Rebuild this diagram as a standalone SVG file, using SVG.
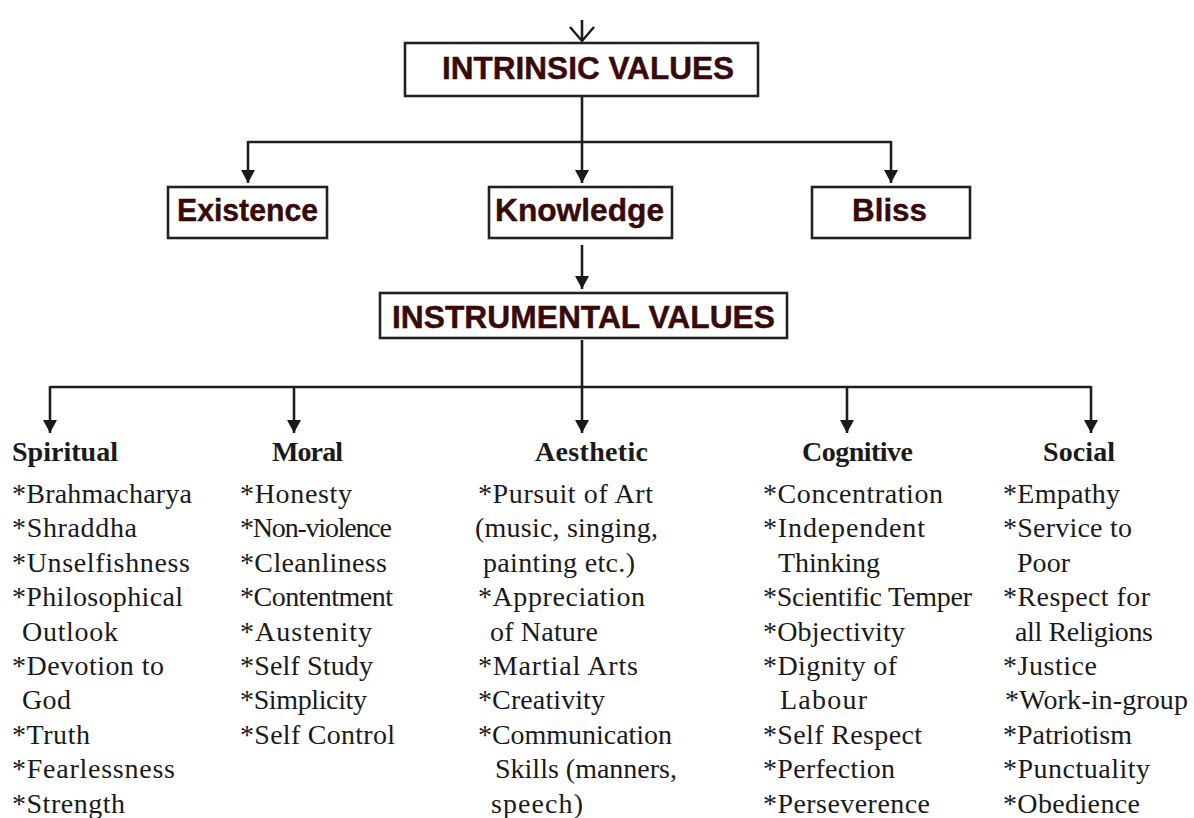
<svg xmlns="http://www.w3.org/2000/svg" width="1194" height="818" viewBox="0 0 1194 818">
<defs>
<marker id="tri" markerUnits="userSpaceOnUse" markerWidth="14" markerHeight="16" refX="13" refY="7" orient="auto" viewBox="0 0 14 14">
<path d="M0,0 L13,7 L0,14 z" fill="#1a1a1a"/>
</marker>
<marker id="vee" markerUnits="userSpaceOnUse" markerWidth="18" markerHeight="28" refX="15" refY="13" orient="auto" viewBox="0 0 18 28">
<path d="M1,1 L15,13 L1,25" fill="none" stroke="#1a1a1a" stroke-width="2.4"/>
</marker>
<style>
.box{fill:#fff;stroke:#222;stroke-width:2.6}
.bl{font-family:"Liberation Sans",Arial,sans-serif;font-weight:bold;fill:#3a0a0a;stroke:#2a0505;stroke-width:0.4}
.ln{fill:none;stroke:#1e1e1e;stroke-width:2.6}
.hd{font-family:"Liberation Serif","Times New Roman",serif;font-weight:bold;font-size:28px;fill:#1a1a1a}
.it{font-family:"Liberation Serif","Times New Roman",serif;font-size:28px;fill:#1a1a1a}
</style>
</defs>
<rect width="1194" height="818" fill="#fff"/>

<g id="connectors">
<line class="ln" x1="582" y1="20" x2="582" y2="41" marker-end="url(#vee)"/>
<line class="ln" x1="582" y1="96" x2="582" y2="142"/>
<line class="ln" x1="248" y1="142" x2="891" y2="142"/>
<line class="ln" x1="248" y1="141" x2="248" y2="183" marker-end="url(#tri)"/>
<line class="ln" x1="582" y1="142" x2="582" y2="183" marker-end="url(#tri)"/>
<line class="ln" x1="891" y1="141" x2="891" y2="183" marker-end="url(#tri)"/>
<line class="ln" x1="582" y1="245" x2="582" y2="289" marker-end="url(#tri)"/>
<line class="ln" x1="582" y1="340" x2="582" y2="387"/>
<line class="ln" x1="50" y1="387" x2="1091" y2="387"/>
<line class="ln" x1="50" y1="386" x2="50" y2="433" marker-end="url(#tri)"/>
<line class="ln" x1="294" y1="387" x2="294" y2="433" marker-end="url(#tri)"/>
<line class="ln" x1="582" y1="387" x2="582" y2="433" marker-end="url(#tri)"/>
<line class="ln" x1="847" y1="387" x2="847" y2="433" marker-end="url(#tri)"/>
<line class="ln" x1="1091" y1="386" x2="1091" y2="433" marker-end="url(#tri)"/>
</g>

<g id="intrinsic">
<rect class="box" x="405" y="43" width="353" height="53"/>
<text class="bl" x="442" y="79" font-size="31" textLength="292" lengthAdjust="spacingAndGlyphs">INTRINSIC VALUES</text>
</g>

<g id="existence">
<rect class="box" x="168" y="187" width="159" height="51"/>
<text class="bl" x="177" y="221" font-size="32" textLength="141" lengthAdjust="spacingAndGlyphs">Existence</text>
</g>

<g id="knowledge">
<rect class="box" x="489" y="187" width="183" height="51"/>
<text class="bl" x="495" y="221" font-size="32" textLength="169" lengthAdjust="spacingAndGlyphs">Knowledge</text>
</g>

<g id="bliss">
<rect class="box" x="812" y="187" width="158" height="51"/>
<text class="bl" x="852" y="221" font-size="32" textLength="75" lengthAdjust="spacingAndGlyphs">Bliss</text>
</g>

<g id="instrumental">
<rect class="box" x="380" y="293" width="407" height="45"/>
<text class="bl" x="392" y="328" font-size="31" textLength="383" lengthAdjust="spacingAndGlyphs">INSTRUMENTAL VALUES</text>
</g>

<g id="spiritual">
<text class="hd" x="12" y="461" textLength="106" lengthAdjust="spacing">Spiritual</text>
<text class="it" x="12" y="503" textLength="180" lengthAdjust="spacing">*Brahmacharya</text>
<text class="it" x="12" y="537.4" textLength="125" lengthAdjust="spacing">*Shraddha</text>
<text class="it" x="12" y="571.8" textLength="178" lengthAdjust="spacing">*Unselfishness</text>
<text class="it" x="12" y="606.2" textLength="171" lengthAdjust="spacing">*Philosophical</text>
<text class="it" x="22" y="640.6" textLength="96" lengthAdjust="spacing">Outlook</text>
<text class="it" x="12" y="675" textLength="152" lengthAdjust="spacing">*Devotion to</text>
<text class="it" x="22" y="709.4" textLength="49" lengthAdjust="spacing">God</text>
<text class="it" x="12" y="743.8" textLength="78" lengthAdjust="spacing">*Truth</text>
<text class="it" x="12" y="778.2" textLength="163" lengthAdjust="spacing">*Fearlessness</text>
<text class="it" x="12" y="812.6" textLength="113" lengthAdjust="spacing">*Strength</text>
</g>

<g id="moral">
<text class="hd" x="272" y="461" textLength="71" lengthAdjust="spacing">Moral</text>
<text class="it" x="240" y="503" textLength="112" lengthAdjust="spacing">*Honesty</text>
<text class="it" x="240" y="537.4" textLength="152" lengthAdjust="spacing">*Non-violence</text>
<text class="it" x="240" y="571.8" textLength="147" lengthAdjust="spacing">*Cleanliness</text>
<text class="it" x="240" y="606.2" textLength="153" lengthAdjust="spacing">*Contentment</text>
<text class="it" x="240" y="640.6" textLength="132" lengthAdjust="spacing">*Austenity</text>
<text class="it" x="240" y="675" textLength="133" lengthAdjust="spacing">*Self Study</text>
<text class="it" x="240" y="709.4" textLength="127" lengthAdjust="spacing">*Simplicity</text>
<text class="it" x="240" y="743.8" textLength="155" lengthAdjust="spacing">*Self Control</text>
</g>

<g id="aesthetic">
<text class="hd" x="535" y="461" textLength="113" lengthAdjust="spacing">Aesthetic</text>
<text class="it" x="478" y="503" textLength="175" lengthAdjust="spacing">*Pursuit of Art</text>
<text class="it" x="475" y="537.4" textLength="183" lengthAdjust="spacing">(music, singing,</text>
<text class="it" x="483" y="571.8" textLength="152" lengthAdjust="spacing">painting etc.)</text>
<text class="it" x="478" y="606.2" textLength="167" lengthAdjust="spacing">*Appreciation</text>
<text class="it" x="490" y="640.6" textLength="108" lengthAdjust="spacing">of Nature</text>
<text class="it" x="478" y="675" textLength="160" lengthAdjust="spacing">*Martial Arts</text>
<text class="it" x="478" y="709.4" textLength="127" lengthAdjust="spacing">*Creativity</text>
<text class="it" x="478" y="743.8" textLength="194" lengthAdjust="spacing">*Communication</text>
<text class="it" x="495" y="778.2" textLength="182" lengthAdjust="spacing">Skills (manners,</text>
<text class="it" x="491" y="812.6" textLength="92" lengthAdjust="spacing">speech)</text>
</g>

<g id="cognitive">
<text class="hd" x="802" y="461" textLength="111" lengthAdjust="spacing">Cognitive</text>
<text class="it" x="763" y="503" textLength="180" lengthAdjust="spacing">*Concentration</text>
<text class="it" x="763" y="537.4" textLength="162" lengthAdjust="spacing">*Independent</text>
<text class="it" x="778" y="571.8" textLength="102" lengthAdjust="spacing">Thinking</text>
<text class="it" x="763" y="606.2" textLength="209" lengthAdjust="spacing">*Scientific Temper</text>
<text class="it" x="763" y="640.6" textLength="142" lengthAdjust="spacing">*Objectivity</text>
<text class="it" x="763" y="675" textLength="134" lengthAdjust="spacing">*Dignity of</text>
<text class="it" x="780" y="709.4" textLength="87" lengthAdjust="spacing">Labour</text>
<text class="it" x="763" y="743.8" textLength="159" lengthAdjust="spacing">*Self Respect</text>
<text class="it" x="763" y="778.2" textLength="132" lengthAdjust="spacing">*Perfection</text>
<text class="it" x="763" y="812.6" textLength="167" lengthAdjust="spacing">*Perseverence</text>
</g>

<g id="social">
<text class="hd" x="1043" y="461" textLength="72" lengthAdjust="spacing">Social</text>
<text class="it" x="1003" y="503" textLength="117" lengthAdjust="spacing">*Empathy</text>
<text class="it" x="1003" y="537.4" textLength="129" lengthAdjust="spacing">*Service to</text>
<text class="it" x="1017" y="571.8" textLength="53" lengthAdjust="spacing">Poor</text>
<text class="it" x="1003" y="606.2" textLength="147" lengthAdjust="spacing">*Respect for</text>
<text class="it" x="1015" y="640.6" textLength="138" lengthAdjust="spacing">all Religions</text>
<text class="it" x="1003" y="675" textLength="94" lengthAdjust="spacing">*Justice</text>
<text class="it" x="1005" y="709.4" textLength="183" lengthAdjust="spacing">*Work-in-group</text>
<text class="it" x="1003" y="743.8" textLength="129" lengthAdjust="spacing">*Patriotism</text>
<text class="it" x="1003" y="778.2" textLength="147" lengthAdjust="spacing">*Punctuality</text>
<text class="it" x="1003" y="812.6" textLength="137" lengthAdjust="spacing">*Obedience</text>
</g>
</svg>
